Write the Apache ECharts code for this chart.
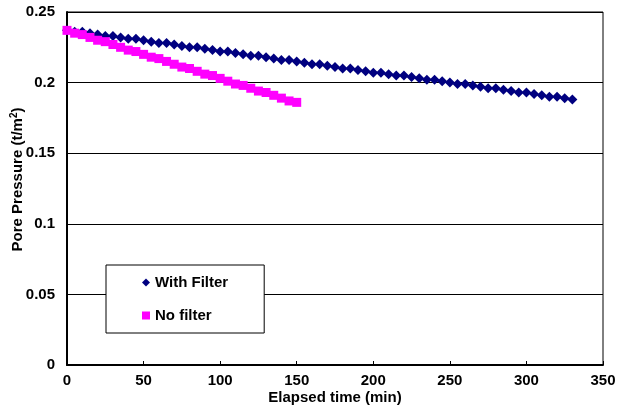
<!DOCTYPE html>
<html lang="en">
<head>
    <meta http-equiv="Content-Type" content="text/html;charset=utf-8">
    <script type="text/javascript" src="https://cdn.jsdelivr.net/npm/echarts@6.0.0/dist/echarts.min.js"></script>
    <title>Pore Pressure</title>
    <style>
        html, body { margin: 0; padding: 0; background: #fff; }
    </style>
</head>
<body>
<div id="main" style="width: 617px;height:415px;"></div>
<script>
    // elapsed time (min), one reading every 5 min
    var times = [0, 5, 10, 15, 20, 25, 30, 35, 40, 45, 50, 55, 60, 65, 70, 75, 80, 85, 90, 95,
        100, 105, 110, 115, 120, 125, 130, 135, 140, 145, 150, 155, 160, 165, 170, 175, 180, 185, 190, 195,
        200, 205, 210, 215, 220, 225, 230, 235, 240, 245, 250, 255, 260, 265, 270, 275, 280, 285, 290, 295,
        300, 305, 310, 315, 320, 325, 330];

    var withFilter = [0.237, 0.236, 0.236, 0.235, 0.234, 0.233, 0.233, 0.232, 0.231, 0.231,
        0.230, 0.229, 0.228, 0.228, 0.227, 0.226, 0.225, 0.225, 0.224, 0.223,
        0.222, 0.222, 0.221, 0.220, 0.219, 0.219, 0.218, 0.217, 0.216, 0.216,
        0.215, 0.214, 0.213, 0.213, 0.212, 0.211, 0.210, 0.210, 0.209, 0.208,
        0.207, 0.207, 0.206, 0.205, 0.205, 0.204, 0.203, 0.202, 0.202, 0.201,
        0.200, 0.199, 0.199, 0.198, 0.197, 0.196, 0.196, 0.195, 0.194, 0.193,
        0.193, 0.192, 0.191, 0.190, 0.190, 0.189, 0.188];

    var noFilter = [0.237, 0.235, 0.234, 0.232, 0.230, 0.229, 0.227, 0.225, 0.223, 0.222,
        0.220, 0.218, 0.217, 0.215, 0.213, 0.211, 0.210, 0.208, 0.206, 0.205,
        0.203, 0.201, 0.199, 0.198, 0.196, 0.194, 0.193, 0.191, 0.189, 0.187,
        0.186];

    var seriesNames = ['With Filter', 'No filter'];

    function pairs(vals) {
        return vals.map(function (v, i) {
            return [times[i], v];
        });
    }

    var font = '"Liberation Sans", Arial, sans-serif';
    var txt = {fontFamily: font, fontSize: 15, fontWeight: 'bold', color: '#000'};
    var chart = echarts.init(document.getElementById('main'));

    var option = {
        backgroundColor: '#fff',
        animation: false,
        grid: {
            left: 67,
            top: 12,
            right: 14,
            bottom: 50,
            outerBoundsMode: 'none',
            show: true,
            borderColor: '#000',
            borderWidth: 1
        },
        legend: {
            orient: 'vertical',
            left: 106,
            top: 265,
            data: [
                {name: seriesNames[0], icon: 'diamond'},
                {name: seriesNames[1], icon: 'rect'}
            ],
            itemWidth: 8,
            itemHeight: 8,
            itemGap: 18,
            padding: [10, 36, 10, 36],
            backgroundColor: '#fff',
            borderColor: '#000',
            borderWidth: 1,
            borderRadius: 0,
            textStyle: txt
        },
        xAxis: {
            type: 'value',
            min: 0,
            max: 350,
            interval: 50,
            name: 'Elapsed time (min)',
            nameLocation: 'middle',
            nameGap: 25,
            nameMoveOverlap: false,
            nameTextStyle: txt,
            axisLine: {lineStyle: {color: '#000', width: 2}},
            axisTick: {inside: true, length: 4, lineStyle: {color: '#000'}},
            axisLabel: Object.assign({margin: 8}, txt),
            splitLine: {show: false}
        },
        yAxis: {
            type: 'value',
            min: 0,
            max: 0.25,
            interval: 0.05,
            name: 'Pore Pressure (t/m{sup|2})',
            nameLocation: 'middle',
            nameGap: 40,
            nameMoveOverlap: false,
            nameTextStyle: Object.assign({
                padding: [0, 0, 0, 18],
                rich: {
                    sup: {fontFamily: font, fontSize: 10, fontWeight: 'bold', color: '#000', verticalAlign: 'top', padding: [0, 0, 8, 0]}
                }
            }, txt),
            axisLine: {lineStyle: {color: '#000', width: 2}},
            axisTick: {inside: true, length: 3, lineStyle: {color: '#000'}},
            axisLabel: Object.assign({margin: 12}, txt),
            splitLine: {show: true, lineStyle: {color: '#000', width: 1}}
        },
        series: [{
            name: seriesNames[0],
            type: 'scatter',
            symbol: 'diamond',
            symbolSize: 10,
            itemStyle: {color: '#000080', opacity: 1},
            data: pairs(withFilter)
        }, {
            name: seriesNames[1],
            type: 'scatter',
            symbol: 'rect',
            symbolSize: 9,
            itemStyle: {color: '#ff00ff', opacity: 1},
            data: pairs(noFilter)
        }]
    };
    chart.setOption(option);
</script>
</body>
</html>
